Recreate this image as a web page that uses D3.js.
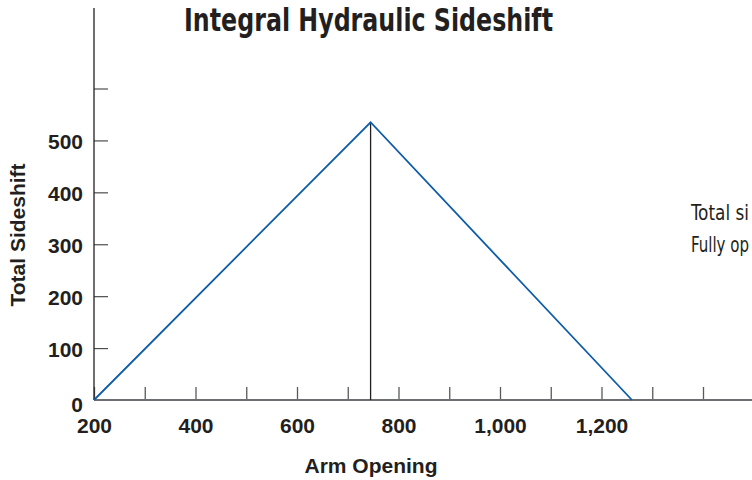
<!DOCTYPE html>
<html>
<head>
<meta charset="utf-8">
<script src="https://cdn.jsdelivr.net/npm/d3@7"></script>
<style>
  body { margin: 0; background: #fff; }
  svg { display: block; }
  .tick text { font-family: "Liberation Sans", Arial, sans-serif; font-weight: bold; font-size: 21px; fill: #231f20; }
</style>
</head>
<body>
<svg id="chart" width="752" height="480"></svg>
<script>
// Data
const armOpening = [200, 745, 1260];
const totalSideshift = [0, 535, 0];
const xTicks = [200, 300, 400, 500, 600, 700, 800, 900, 1000, 1100, 1200, 1300, 1400];
const xLabels = [200, 400, 600, 800, 1000, 1200];
const yTicks = [0, 100, 200, 300, 400, 500, 600];
const yLabels = [0, 100, 200, 300, 400, 500];
// side notes, cut at the right edge as in the source
const notes = ["Total si", "Fully op"];

const svg = d3.select("#chart");
const ink = "#231f20";

const x = d3.scaleLinear().domain([200, 1400]).range([94, 703]);
const y = d3.scaleLinear().domain([0, 600]).range([400, 88.5]);

// Title
svg.append("text")
  .attr("x", 184).attr("y", 31)
  .attr("textLength", 369).attr("lengthAdjust", "spacingAndGlyphs")
  .style("font-family", "'Liberation Sans Narrow', 'DejaVu Sans Condensed', sans-serif")
  .style("font-weight", "bold").style("font-size", "32px")
  .attr("fill", ink)
  .text("Integral Hydraulic Sideshift");

// X axis
const xAxis = svg.append("g")
  .attr("transform", `translate(0,${y(0)})`)
  .call(d3.axisBottom(x)
    .tickValues(xTicks)
    .tickSizeInner(-13).tickSizeOuter(0)
    .tickPadding(18)
    .tickFormat(d => xLabels.includes(d) ? d3.format(",")(d) : ""));
xAxis.select(".domain").remove();
xAxis.selectAll(".tick line").attr("stroke", "#58595b").attr("stroke-width", 1.3);
xAxis.append("line")
  .attr("x1", x(200)).attr("x2", 752)
  .attr("stroke", "#6d6e71").attr("stroke-width", 1.8);

// Y axis
const yAxis = svg.append("g")
  .attr("transform", `translate(${x(200)},0)`)
  .call(d3.axisLeft(y)
    .tickValues(yTicks)
    .tickSizeInner(-14).tickSizeOuter(0)
    .tickPadding(11)
    .tickFormat(d => yLabels.includes(d) ? d : ""));
yAxis.select(".domain").remove();
yAxis.selectAll(".tick text").attr("dy", d => d === 0 ? "0.55em" : "0.4em");
yAxis.selectAll(".tick line").attr("stroke", "#4d4d4f").attr("stroke-width", 1.2)
  .filter(d => d === 0).remove();
yAxis.append("line")
  .attr("y1", y(0)).attr("y2", 8)
  .attr("stroke", ink).attr("stroke-width", 1.3);

// Axis titles
svg.append("text")
  .attr("transform", "translate(25,235) rotate(-90)")
  .attr("text-anchor", "middle")
  .style("font-family", "'Liberation Sans', Arial, sans-serif")
  .style("font-weight", "bold").style("font-size", "21px")
  .attr("fill", ink)
  .text("Total Sideshift");

svg.append("text")
  .attr("x", 371).attr("y", 473)
  .attr("text-anchor", "middle")
  .style("font-family", "'Liberation Sans', Arial, sans-serif")
  .style("font-weight", "bold").style("font-size", "21px")
  .attr("fill", ink)
  .text("Arm Opening");

// Peak marker
const peak = d3.maxIndex(totalSideshift);
svg.append("line")
  .attr("x1", x(armOpening[peak])).attr("x2", x(armOpening[peak]))
  .attr("y1", y(totalSideshift[peak])).attr("y2", y(0))
  .attr("stroke", ink).attr("stroke-width", 1.3);

// Line
const line = d3.line().x((d, i) => x(armOpening[i])).y(d => y(d));
svg.append("path")
  .datum(totalSideshift)
  .attr("d", line)
  .attr("fill", "none")
  .attr("stroke", "#0d5ca8")
  .attr("stroke-width", 1.8)
  .attr("stroke-linejoin", "miter");

// Side notes - squeezed to look condensed and stop at the edge
const noteG = svg.selectAll(".note")
  .data(notes)
  .enter().append("g")
  .attr("class", "note");
noteG.append("text")
  .style("font-family", "'DejaVu Sans Condensed', 'Liberation Sans', sans-serif")
  .style("font-size", "22px")
  .attr("fill", ink)
  .text(d => d);
noteG.attr("transform", function(d, i) {
  const w = this.querySelector("text").getComputedTextLength();
  return `translate(691,${220 + i * 32}) scale(${58 / w},1)`;
});
</script>
</body>
</html>
